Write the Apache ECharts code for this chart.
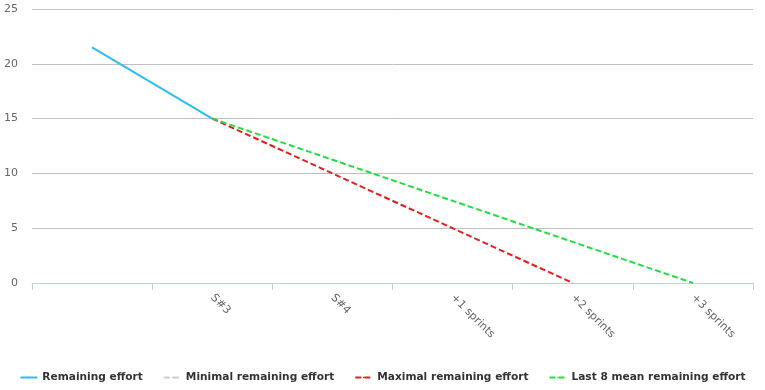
<!DOCTYPE html>
<html><head><meta charset="utf-8">
<script src="https://cdn.jsdelivr.net/npm/echarts@6/dist/echarts.min.js"></script>
<style>html,body{margin:0;padding:0;background:#fff}#c{width:765px;height:390px}</style>
</head><body><div id="c"></div>
<script>
const categories = ["", "S#3", "S#4", "+1 sprints", "+2 sprints", "+3 sprints"];
const remainingEffort = [21.5, 15, null, null, null, null];
const minimalRemaining = [null, null, null, null, null, null];
const maximalRemaining = [null, 15, 10, 5, 0, null];
const meanRemaining = [null, 15, 11.25, 7.5, 3.75, 0];
const yTicks = {min: 0, max: 25, interval: 5};

const chart = echarts.init(document.getElementById('c'));
const font = '"DejaVu Sans", Verdana, sans-serif';
function s(name, data, color, type) {
  return {name, type: 'line', data, symbol: 'none', showSymbol: false,
    lineStyle: {color, width: 2, type: type},
    itemStyle: {color}, connectNulls: false, animation: false};
}
chart.setOption({
  animation: false,
  grid: {left: 32, right: 12, top: 9, bottom: 107},
  xAxis: {type: 'category', data: categories, boundaryGap: true,
    axisLine: {lineStyle: {color: '#C0D0E0'}},
    axisTick: {show: true, length: 7, lineStyle: {color: '#C0D0E0'}, alignWithLabel: false},
    axisLabel: {rotate: -45, color: '#666', fontSize: 11, fontFamily: font, margin: 13}},
  yAxis: {type: 'value', min: yTicks.min, max: yTicks.max, interval: yTicks.interval,
    axisLine: {show: false}, axisTick: {show: false},
    splitLine: {lineStyle: {color: '#C0C0C0'}},
    axisLabel: {color: '#666', fontSize: 11, fontFamily: font, margin: 14}},
  legend: {bottom: 2, left: 'center', itemWidth: 17, itemHeight: 2, itemGap: 20,
    textStyle: {color: '#333', fontWeight: 'bold', fontSize: 10.6, fontFamily: font}},
  series: [
    s('Remaining effort', remainingEffort, '#2CBDF5', 'solid'),
    s('Minimal remaining effort', minimalRemaining, '#CCCCCC', [6, 3]),
    s('Maximal remaining effort', maximalRemaining, '#E31E1E', [6, 3]),
    s('Last 8 mean remaining effort', meanRemaining, '#22DD44', [6, 3])
  ]
});
</script></body></html>
